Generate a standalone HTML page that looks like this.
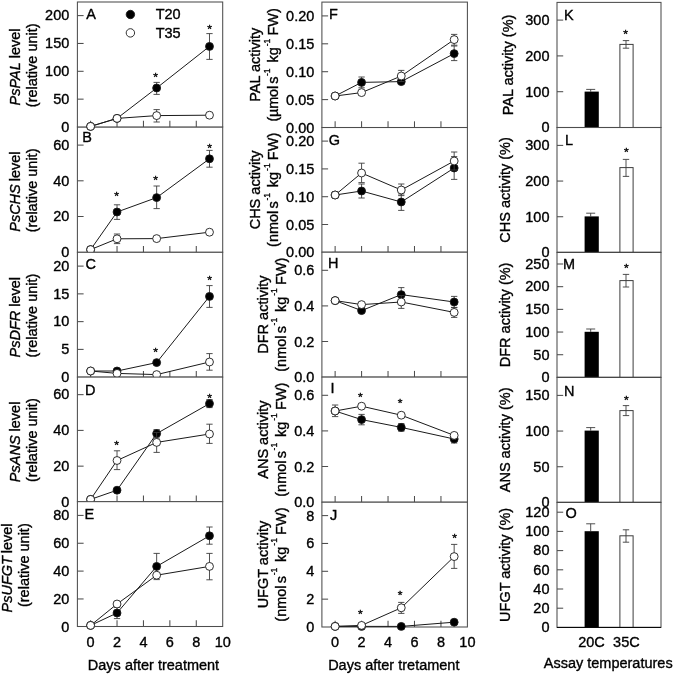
<!DOCTYPE html>
<html lang="en"><head><meta charset="utf-8"><title>Figure</title>
<style>
html,body{margin:0;padding:0;background:#fff;}
svg{display:block;}
svg text{font-family:"Liberation Sans",sans-serif;fill:#000;stroke:#000;stroke-width:0.35px;}
</style></head>
<body>
<svg width="675" height="675" viewBox="0 0 675 675">
<rect width="675" height="675" fill="#fff"/>
<g id="panel-B">
<rect x="77.40" y="126.95" width="145.30" height="125.35" fill="#fff" stroke="#4d4d4d" stroke-width="1.05"/>
<line x1="90.61" y1="252.30" x2="90.61" y2="246.10" stroke="#4d4d4d" stroke-width="1.05"/>
<line x1="117.03" y1="252.30" x2="117.03" y2="246.10" stroke="#4d4d4d" stroke-width="1.05"/>
<line x1="143.45" y1="252.30" x2="143.45" y2="246.10" stroke="#4d4d4d" stroke-width="1.05"/>
<line x1="169.86" y1="252.30" x2="169.86" y2="246.10" stroke="#4d4d4d" stroke-width="1.05"/>
<line x1="196.28" y1="252.30" x2="196.28" y2="246.10" stroke="#4d4d4d" stroke-width="1.05"/>
<text transform="translate(69.30 256.95) scale(1 1.035)" text-anchor="end" font-size="14.5">0</text>
<line x1="77.40" y1="216.50" x2="83.60" y2="216.50" stroke="#4d4d4d" stroke-width="1.05"/>
<text transform="translate(69.30 221.25) scale(1 1.035)" text-anchor="end" font-size="14.5">20</text>
<line x1="77.40" y1="180.80" x2="83.60" y2="180.80" stroke="#4d4d4d" stroke-width="1.05"/>
<text transform="translate(69.30 185.55) scale(1 1.035)" text-anchor="end" font-size="14.5">40</text>
<line x1="77.40" y1="145.10" x2="83.60" y2="145.10" stroke="#4d4d4d" stroke-width="1.05"/>
<text transform="translate(69.30 149.85) scale(1 1.035)" text-anchor="end" font-size="14.5">60</text>
<polyline points="90.61,249.60 117.03,212.00 156.65,197.60 209.49,158.80" fill="none" stroke="#1a1a1a" stroke-width="1.0"/>
<line x1="117.03" y1="204.80" x2="117.03" y2="219.40" stroke="#3c3c3c" stroke-width="0.9"/>
<line x1="113.88" y1="204.80" x2="120.18" y2="204.80" stroke="#3c3c3c" stroke-width="0.9"/>
<line x1="113.88" y1="219.40" x2="120.18" y2="219.40" stroke="#3c3c3c" stroke-width="0.9"/>
<line x1="156.65" y1="186.00" x2="156.65" y2="208.60" stroke="#3c3c3c" stroke-width="0.9"/>
<line x1="153.50" y1="186.00" x2="159.80" y2="186.00" stroke="#3c3c3c" stroke-width="0.9"/>
<line x1="153.50" y1="208.60" x2="159.80" y2="208.60" stroke="#3c3c3c" stroke-width="0.9"/>
<line x1="209.49" y1="150.40" x2="209.49" y2="167.20" stroke="#3c3c3c" stroke-width="0.9"/>
<line x1="206.34" y1="150.40" x2="212.64" y2="150.40" stroke="#3c3c3c" stroke-width="0.9"/>
<line x1="206.34" y1="167.20" x2="212.64" y2="167.20" stroke="#3c3c3c" stroke-width="0.9"/>
<circle cx="90.61" cy="249.60" r="3.95" fill="#000" stroke="#1a1a1a" stroke-width="0.9"/>
<circle cx="117.03" cy="212.00" r="3.95" fill="#000" stroke="#1a1a1a" stroke-width="0.9"/>
<circle cx="156.65" cy="197.60" r="3.95" fill="#000" stroke="#1a1a1a" stroke-width="0.9"/>
<circle cx="209.49" cy="158.80" r="3.95" fill="#000" stroke="#1a1a1a" stroke-width="0.9"/>
<polyline points="90.61,249.60 117.03,238.80 156.65,238.60 209.49,232.20" fill="none" stroke="#1a1a1a" stroke-width="1.0"/>
<line x1="117.03" y1="234.00" x2="117.03" y2="243.60" stroke="#3c3c3c" stroke-width="0.9"/>
<line x1="113.88" y1="234.00" x2="120.18" y2="234.00" stroke="#3c3c3c" stroke-width="0.9"/>
<line x1="113.88" y1="243.60" x2="120.18" y2="243.60" stroke="#3c3c3c" stroke-width="0.9"/>
<circle cx="90.61" cy="249.60" r="3.95" fill="#fff" stroke="#1a1a1a" stroke-width="0.9"/>
<circle cx="117.03" cy="238.80" r="3.95" fill="#fff" stroke="#1a1a1a" stroke-width="0.9"/>
<circle cx="156.65" cy="238.60" r="3.95" fill="#fff" stroke="#1a1a1a" stroke-width="0.9"/>
<circle cx="209.49" cy="232.20" r="3.95" fill="#fff" stroke="#1a1a1a" stroke-width="0.9"/>
<text transform="translate(116.53 200.40) scale(1.04 0.93)" text-anchor="middle" font-size="11.6" stroke-width="0.8">*</text>
<text transform="translate(155.65 183.80) scale(1.04 0.93)" text-anchor="middle" font-size="11.6" stroke-width="0.8">*</text>
<text transform="translate(209.49 151.80) scale(1.04 0.93)" text-anchor="middle" font-size="11.6" stroke-width="0.8">*</text>
<text transform="translate(82.20 142.30) scale(1 1.035)" text-anchor="start" font-size="14.5">B</text>
<text transform="translate(20.20 191.62) rotate(-90) scale(1 1.035)" text-anchor="middle" font-size="14.5"><tspan font-style="italic">PsCHS</tspan><tspan dx="-1.0"> level</tspan></text>
<text transform="translate(37.00 190.43) rotate(-90) scale(1 1.035)" text-anchor="middle" font-size="14.5">(relative unit)</text>
</g>
<g id="panel-C">
<rect x="77.40" y="252.30" width="145.30" height="124.80" fill="#fff" stroke="#4d4d4d" stroke-width="1.05"/>
<line x1="90.61" y1="377.10" x2="90.61" y2="370.90" stroke="#4d4d4d" stroke-width="1.05"/>
<line x1="117.03" y1="377.10" x2="117.03" y2="370.90" stroke="#4d4d4d" stroke-width="1.05"/>
<line x1="143.45" y1="377.10" x2="143.45" y2="370.90" stroke="#4d4d4d" stroke-width="1.05"/>
<line x1="169.86" y1="377.10" x2="169.86" y2="370.90" stroke="#4d4d4d" stroke-width="1.05"/>
<line x1="196.28" y1="377.10" x2="196.28" y2="370.90" stroke="#4d4d4d" stroke-width="1.05"/>
<text transform="translate(69.30 381.90) scale(1 1.035)" text-anchor="end" font-size="14.5">0</text>
<line x1="77.40" y1="349.39" x2="83.60" y2="349.39" stroke="#4d4d4d" stroke-width="1.05"/>
<text transform="translate(69.30 354.14) scale(1 1.035)" text-anchor="end" font-size="14.5">5</text>
<line x1="77.40" y1="321.63" x2="83.60" y2="321.63" stroke="#4d4d4d" stroke-width="1.05"/>
<text transform="translate(69.30 326.38) scale(1 1.035)" text-anchor="end" font-size="14.5">10</text>
<line x1="77.40" y1="293.87" x2="83.60" y2="293.87" stroke="#4d4d4d" stroke-width="1.05"/>
<text transform="translate(69.30 298.62) scale(1 1.035)" text-anchor="end" font-size="14.5">15</text>
<line x1="77.40" y1="266.11" x2="83.60" y2="266.11" stroke="#4d4d4d" stroke-width="1.05"/>
<text transform="translate(69.30 270.86) scale(1 1.035)" text-anchor="end" font-size="14.5">20</text>
<polyline points="90.61,371.00 117.03,371.00 156.65,362.60 209.49,296.40" fill="none" stroke="#1a1a1a" stroke-width="1.0"/>
<line x1="209.49" y1="285.60" x2="209.49" y2="307.40" stroke="#3c3c3c" stroke-width="0.9"/>
<line x1="206.34" y1="285.60" x2="212.64" y2="285.60" stroke="#3c3c3c" stroke-width="0.9"/>
<line x1="206.34" y1="307.40" x2="212.64" y2="307.40" stroke="#3c3c3c" stroke-width="0.9"/>
<circle cx="90.61" cy="371.00" r="3.95" fill="#000" stroke="#1a1a1a" stroke-width="0.9"/>
<circle cx="117.03" cy="371.00" r="3.95" fill="#000" stroke="#1a1a1a" stroke-width="0.9"/>
<circle cx="156.65" cy="362.60" r="3.95" fill="#000" stroke="#1a1a1a" stroke-width="0.9"/>
<circle cx="209.49" cy="296.40" r="3.95" fill="#000" stroke="#1a1a1a" stroke-width="0.9"/>
<polyline points="90.61,371.00 117.03,373.40 156.65,374.60 209.49,362.00" fill="none" stroke="#1a1a1a" stroke-width="1.0"/>
<line x1="209.49" y1="353.60" x2="209.49" y2="370.20" stroke="#3c3c3c" stroke-width="0.9"/>
<line x1="206.34" y1="353.60" x2="212.64" y2="353.60" stroke="#3c3c3c" stroke-width="0.9"/>
<line x1="206.34" y1="370.20" x2="212.64" y2="370.20" stroke="#3c3c3c" stroke-width="0.9"/>
<circle cx="90.61" cy="371.00" r="3.95" fill="#fff" stroke="#1a1a1a" stroke-width="0.9"/>
<circle cx="117.03" cy="373.40" r="3.95" fill="#fff" stroke="#1a1a1a" stroke-width="0.9"/>
<circle cx="156.65" cy="374.60" r="3.95" fill="#fff" stroke="#1a1a1a" stroke-width="0.9"/>
<circle cx="209.49" cy="362.00" r="3.95" fill="#fff" stroke="#1a1a1a" stroke-width="0.9"/>
<text transform="translate(155.65 356.40) scale(1.04 0.93)" text-anchor="middle" font-size="11.6" stroke-width="0.8">*</text>
<text transform="translate(209.49 284.00) scale(1.04 0.93)" text-anchor="middle" font-size="11.6" stroke-width="0.8">*</text>
<text transform="translate(85.40 268.80) scale(1 1.035)" text-anchor="start" font-size="14.5">C</text>
<text transform="translate(20.20 317.20) rotate(-90) scale(1 1.035)" text-anchor="middle" font-size="14.5"><tspan font-style="italic">PsDFR</tspan><tspan dx="0"> level</tspan></text>
<text transform="translate(37.00 315.50) rotate(-90) scale(1 1.035)" text-anchor="middle" font-size="14.5">(relative unit)</text>
</g>
<g id="panel-D">
<rect x="77.40" y="377.10" width="145.30" height="124.55" fill="#fff" stroke="#4d4d4d" stroke-width="1.05"/>
<line x1="90.61" y1="501.65" x2="90.61" y2="495.45" stroke="#4d4d4d" stroke-width="1.05"/>
<line x1="117.03" y1="501.65" x2="117.03" y2="495.45" stroke="#4d4d4d" stroke-width="1.05"/>
<line x1="143.45" y1="501.65" x2="143.45" y2="495.45" stroke="#4d4d4d" stroke-width="1.05"/>
<line x1="169.86" y1="501.65" x2="169.86" y2="495.45" stroke="#4d4d4d" stroke-width="1.05"/>
<line x1="196.28" y1="501.65" x2="196.28" y2="495.45" stroke="#4d4d4d" stroke-width="1.05"/>
<text transform="translate(69.30 506.65) scale(1 1.035)" text-anchor="end" font-size="14.5">0</text>
<line x1="77.40" y1="466.15" x2="83.60" y2="466.15" stroke="#4d4d4d" stroke-width="1.05"/>
<text transform="translate(69.30 470.90) scale(1 1.035)" text-anchor="end" font-size="14.5">20</text>
<line x1="77.40" y1="430.40" x2="83.60" y2="430.40" stroke="#4d4d4d" stroke-width="1.05"/>
<text transform="translate(69.30 435.15) scale(1 1.035)" text-anchor="end" font-size="14.5">40</text>
<line x1="77.40" y1="394.65" x2="83.60" y2="394.65" stroke="#4d4d4d" stroke-width="1.05"/>
<text transform="translate(69.30 399.40) scale(1 1.035)" text-anchor="end" font-size="14.5">60</text>
<polyline points="90.61,499.40 117.03,490.20 156.65,433.60 209.49,403.60" fill="none" stroke="#1a1a1a" stroke-width="1.0"/>
<line x1="156.65" y1="429.60" x2="156.65" y2="438.00" stroke="#3c3c3c" stroke-width="0.9"/>
<line x1="153.50" y1="429.60" x2="159.80" y2="429.60" stroke="#3c3c3c" stroke-width="0.9"/>
<line x1="153.50" y1="438.00" x2="159.80" y2="438.00" stroke="#3c3c3c" stroke-width="0.9"/>
<line x1="209.49" y1="399.60" x2="209.49" y2="407.60" stroke="#3c3c3c" stroke-width="0.9"/>
<line x1="206.34" y1="399.60" x2="212.64" y2="399.60" stroke="#3c3c3c" stroke-width="0.9"/>
<line x1="206.34" y1="407.60" x2="212.64" y2="407.60" stroke="#3c3c3c" stroke-width="0.9"/>
<circle cx="90.61" cy="499.40" r="3.95" fill="#000" stroke="#1a1a1a" stroke-width="0.9"/>
<circle cx="117.03" cy="490.20" r="3.95" fill="#000" stroke="#1a1a1a" stroke-width="0.9"/>
<circle cx="156.65" cy="433.60" r="3.95" fill="#000" stroke="#1a1a1a" stroke-width="0.9"/>
<circle cx="209.49" cy="403.60" r="3.95" fill="#000" stroke="#1a1a1a" stroke-width="0.9"/>
<polyline points="90.61,499.40 117.03,460.50 156.65,442.40 209.49,434.00" fill="none" stroke="#1a1a1a" stroke-width="1.0"/>
<line x1="117.03" y1="450.80" x2="117.03" y2="469.60" stroke="#3c3c3c" stroke-width="0.9"/>
<line x1="113.88" y1="450.80" x2="120.18" y2="450.80" stroke="#3c3c3c" stroke-width="0.9"/>
<line x1="113.88" y1="469.60" x2="120.18" y2="469.60" stroke="#3c3c3c" stroke-width="0.9"/>
<line x1="156.65" y1="432.40" x2="156.65" y2="452.40" stroke="#3c3c3c" stroke-width="0.9"/>
<line x1="153.50" y1="432.40" x2="159.80" y2="432.40" stroke="#3c3c3c" stroke-width="0.9"/>
<line x1="153.50" y1="452.40" x2="159.80" y2="452.40" stroke="#3c3c3c" stroke-width="0.9"/>
<line x1="209.49" y1="424.20" x2="209.49" y2="443.40" stroke="#3c3c3c" stroke-width="0.9"/>
<line x1="206.34" y1="424.20" x2="212.64" y2="424.20" stroke="#3c3c3c" stroke-width="0.9"/>
<line x1="206.34" y1="443.40" x2="212.64" y2="443.40" stroke="#3c3c3c" stroke-width="0.9"/>
<circle cx="90.61" cy="499.40" r="3.95" fill="#fff" stroke="#1a1a1a" stroke-width="0.9"/>
<circle cx="117.03" cy="460.50" r="3.95" fill="#fff" stroke="#1a1a1a" stroke-width="0.9"/>
<circle cx="156.65" cy="442.40" r="3.95" fill="#fff" stroke="#1a1a1a" stroke-width="0.9"/>
<circle cx="209.49" cy="434.00" r="3.95" fill="#fff" stroke="#1a1a1a" stroke-width="0.9"/>
<text transform="translate(116.53 449.40) scale(1.04 0.93)" text-anchor="middle" font-size="11.6" stroke-width="0.8">*</text>
<text transform="translate(209.49 402.40) scale(1.04 0.93)" text-anchor="middle" font-size="11.6" stroke-width="0.8">*</text>
<text transform="translate(85.00 394.80) scale(1 1.035)" text-anchor="start" font-size="14.5">D</text>
<text transform="translate(20.20 441.88) rotate(-90) scale(1 1.035)" text-anchor="middle" font-size="14.5"><tspan font-style="italic">PsANS</tspan><tspan dx="0"> level</tspan></text>
<text transform="translate(37.00 440.18) rotate(-90) scale(1 1.035)" text-anchor="middle" font-size="14.5">(relative unit)</text>
</g>
<g id="panel-E">
<rect x="77.40" y="501.65" width="145.30" height="124.85" fill="#fff" stroke="#4d4d4d" stroke-width="1.05"/>
<line x1="90.61" y1="626.50" x2="90.61" y2="620.30" stroke="#4d4d4d" stroke-width="1.05"/>
<line x1="117.03" y1="626.50" x2="117.03" y2="620.30" stroke="#4d4d4d" stroke-width="1.05"/>
<line x1="143.45" y1="626.50" x2="143.45" y2="620.30" stroke="#4d4d4d" stroke-width="1.05"/>
<line x1="169.86" y1="626.50" x2="169.86" y2="620.30" stroke="#4d4d4d" stroke-width="1.05"/>
<line x1="196.28" y1="626.50" x2="196.28" y2="620.30" stroke="#4d4d4d" stroke-width="1.05"/>
<text transform="translate(69.30 631.55) scale(1 1.035)" text-anchor="end" font-size="14.5">0</text>
<line x1="77.40" y1="598.95" x2="83.60" y2="598.95" stroke="#4d4d4d" stroke-width="1.05"/>
<text transform="translate(69.30 603.70) scale(1 1.035)" text-anchor="end" font-size="14.5">20</text>
<line x1="77.40" y1="571.10" x2="83.60" y2="571.10" stroke="#4d4d4d" stroke-width="1.05"/>
<text transform="translate(69.30 575.85) scale(1 1.035)" text-anchor="end" font-size="14.5">40</text>
<line x1="77.40" y1="543.25" x2="83.60" y2="543.25" stroke="#4d4d4d" stroke-width="1.05"/>
<text transform="translate(69.30 548.00) scale(1 1.035)" text-anchor="end" font-size="14.5">60</text>
<line x1="77.40" y1="515.40" x2="83.60" y2="515.40" stroke="#4d4d4d" stroke-width="1.05"/>
<text transform="translate(69.30 520.15) scale(1 1.035)" text-anchor="end" font-size="14.5">80</text>
<polyline points="90.61,625.40 117.03,613.00 156.65,566.40 209.49,535.80" fill="none" stroke="#1a1a1a" stroke-width="1.0"/>
<line x1="117.03" y1="607.50" x2="117.03" y2="618.60" stroke="#3c3c3c" stroke-width="0.9"/>
<line x1="113.88" y1="607.50" x2="120.18" y2="607.50" stroke="#3c3c3c" stroke-width="0.9"/>
<line x1="113.88" y1="618.60" x2="120.18" y2="618.60" stroke="#3c3c3c" stroke-width="0.9"/>
<line x1="156.65" y1="553.40" x2="156.65" y2="579.60" stroke="#3c3c3c" stroke-width="0.9"/>
<line x1="153.50" y1="553.40" x2="159.80" y2="553.40" stroke="#3c3c3c" stroke-width="0.9"/>
<line x1="153.50" y1="579.60" x2="159.80" y2="579.60" stroke="#3c3c3c" stroke-width="0.9"/>
<line x1="209.49" y1="527.00" x2="209.49" y2="544.20" stroke="#3c3c3c" stroke-width="0.9"/>
<line x1="206.34" y1="527.00" x2="212.64" y2="527.00" stroke="#3c3c3c" stroke-width="0.9"/>
<line x1="206.34" y1="544.20" x2="212.64" y2="544.20" stroke="#3c3c3c" stroke-width="0.9"/>
<circle cx="90.61" cy="625.40" r="3.95" fill="#000" stroke="#1a1a1a" stroke-width="0.9"/>
<circle cx="117.03" cy="613.00" r="3.95" fill="#000" stroke="#1a1a1a" stroke-width="0.9"/>
<circle cx="156.65" cy="566.40" r="3.95" fill="#000" stroke="#1a1a1a" stroke-width="0.9"/>
<circle cx="209.49" cy="535.80" r="3.95" fill="#000" stroke="#1a1a1a" stroke-width="0.9"/>
<polyline points="90.61,625.40 117.03,604.00 156.65,575.20 209.49,566.40" fill="none" stroke="#1a1a1a" stroke-width="1.0"/>
<line x1="209.49" y1="553.40" x2="209.49" y2="579.80" stroke="#3c3c3c" stroke-width="0.9"/>
<line x1="206.34" y1="553.40" x2="212.64" y2="553.40" stroke="#3c3c3c" stroke-width="0.9"/>
<line x1="206.34" y1="579.80" x2="212.64" y2="579.80" stroke="#3c3c3c" stroke-width="0.9"/>
<circle cx="90.61" cy="625.40" r="3.95" fill="#fff" stroke="#1a1a1a" stroke-width="0.9"/>
<circle cx="117.03" cy="604.00" r="3.95" fill="#fff" stroke="#1a1a1a" stroke-width="0.9"/>
<circle cx="156.65" cy="575.20" r="3.95" fill="#fff" stroke="#1a1a1a" stroke-width="0.9"/>
<circle cx="209.49" cy="566.40" r="3.95" fill="#fff" stroke="#1a1a1a" stroke-width="0.9"/>
<text transform="translate(84.50 519.30) scale(1 1.035)" text-anchor="start" font-size="14.5">E</text>
<text transform="translate(12.00 567.98) rotate(-90) scale(1 1.035)" text-anchor="middle" font-size="14.5"><tspan font-style="italic">PsUFGT</tspan><tspan dx="-1.3"> level</tspan></text>
<text transform="translate(29.30 565.17) rotate(-90) scale(1 1.035)" text-anchor="middle" font-size="14.5">(relative unit)</text>
</g>
<g id="panel-A">
<rect x="77.40" y="2.00" width="145.30" height="124.95" fill="#fff" stroke="#4d4d4d" stroke-width="1.05"/>
<line x1="90.61" y1="126.95" x2="90.61" y2="120.75" stroke="#4d4d4d" stroke-width="1.05"/>
<line x1="117.03" y1="126.95" x2="117.03" y2="120.75" stroke="#4d4d4d" stroke-width="1.05"/>
<line x1="143.45" y1="126.95" x2="143.45" y2="120.75" stroke="#4d4d4d" stroke-width="1.05"/>
<line x1="169.86" y1="126.95" x2="169.86" y2="120.75" stroke="#4d4d4d" stroke-width="1.05"/>
<line x1="196.28" y1="126.95" x2="196.28" y2="120.75" stroke="#4d4d4d" stroke-width="1.05"/>
<text transform="translate(69.30 131.75) scale(1 1.035)" text-anchor="end" font-size="14.5">0</text>
<line x1="77.40" y1="99.15" x2="83.60" y2="99.15" stroke="#4d4d4d" stroke-width="1.05"/>
<text transform="translate(69.30 103.90) scale(1 1.035)" text-anchor="end" font-size="14.5">50</text>
<line x1="77.40" y1="71.30" x2="83.60" y2="71.30" stroke="#4d4d4d" stroke-width="1.05"/>
<text transform="translate(69.30 76.05) scale(1 1.035)" text-anchor="end" font-size="14.5">100</text>
<line x1="77.40" y1="43.45" x2="83.60" y2="43.45" stroke="#4d4d4d" stroke-width="1.05"/>
<text transform="translate(69.30 48.20) scale(1 1.035)" text-anchor="end" font-size="14.5">150</text>
<line x1="77.40" y1="15.60" x2="83.60" y2="15.60" stroke="#4d4d4d" stroke-width="1.05"/>
<text transform="translate(69.30 20.35) scale(1 1.035)" text-anchor="end" font-size="14.5">200</text>
<polyline points="90.61,126.40 117.03,118.40 156.65,88.00 209.49,46.40" fill="none" stroke="#1a1a1a" stroke-width="1.0"/>
<line x1="156.65" y1="82.40" x2="156.65" y2="94.40" stroke="#3c3c3c" stroke-width="0.9"/>
<line x1="153.50" y1="82.40" x2="159.80" y2="82.40" stroke="#3c3c3c" stroke-width="0.9"/>
<line x1="153.50" y1="94.40" x2="159.80" y2="94.40" stroke="#3c3c3c" stroke-width="0.9"/>
<line x1="209.49" y1="33.60" x2="209.49" y2="59.40" stroke="#3c3c3c" stroke-width="0.9"/>
<line x1="206.34" y1="33.60" x2="212.64" y2="33.60" stroke="#3c3c3c" stroke-width="0.9"/>
<line x1="206.34" y1="59.40" x2="212.64" y2="59.40" stroke="#3c3c3c" stroke-width="0.9"/>
<circle cx="90.61" cy="126.40" r="3.95" fill="#000" stroke="#1a1a1a" stroke-width="0.9"/>
<circle cx="117.03" cy="118.40" r="3.95" fill="#000" stroke="#1a1a1a" stroke-width="0.9"/>
<circle cx="156.65" cy="88.00" r="3.95" fill="#000" stroke="#1a1a1a" stroke-width="0.9"/>
<circle cx="209.49" cy="46.40" r="3.95" fill="#000" stroke="#1a1a1a" stroke-width="0.9"/>
<polyline points="90.61,126.40 117.03,118.40 156.65,115.60 209.49,115.20" fill="none" stroke="#1a1a1a" stroke-width="1.0"/>
<line x1="156.65" y1="109.60" x2="156.65" y2="122.00" stroke="#3c3c3c" stroke-width="0.9"/>
<line x1="153.50" y1="109.60" x2="159.80" y2="109.60" stroke="#3c3c3c" stroke-width="0.9"/>
<line x1="153.50" y1="122.00" x2="159.80" y2="122.00" stroke="#3c3c3c" stroke-width="0.9"/>
<circle cx="90.61" cy="126.40" r="3.95" fill="#fff" stroke="#1a1a1a" stroke-width="0.9"/>
<circle cx="117.03" cy="118.40" r="3.95" fill="#fff" stroke="#1a1a1a" stroke-width="0.9"/>
<circle cx="156.65" cy="115.60" r="3.95" fill="#fff" stroke="#1a1a1a" stroke-width="0.9"/>
<circle cx="209.49" cy="115.20" r="3.95" fill="#fff" stroke="#1a1a1a" stroke-width="0.9"/>
<text transform="translate(155.65 80.80) scale(1.04 0.93)" text-anchor="middle" font-size="11.6" stroke-width="0.8">*</text>
<text transform="translate(209.49 32.60) scale(1.04 0.93)" text-anchor="middle" font-size="11.6" stroke-width="0.8">*</text>
<text transform="translate(86.30 18.90) scale(1 1.035)" text-anchor="start" font-size="14.5">A</text>
<text transform="translate(20.20 66.97) rotate(-90) scale(1 1.035)" text-anchor="middle" font-size="14.5"><tspan font-style="italic">PsPAL</tspan><tspan dx="0"> level</tspan></text>
<text transform="translate(37.00 65.27) rotate(-90) scale(1 1.035)" text-anchor="middle" font-size="14.5">(relative unit)</text>
</g>
<g id="panel-G">
<rect x="321.90" y="127.50" width="145.50" height="124.70" fill="#fff" stroke="#4d4d4d" stroke-width="1.05"/>
<line x1="335.13" y1="252.20" x2="335.13" y2="246.00" stroke="#4d4d4d" stroke-width="1.05"/>
<line x1="361.58" y1="252.20" x2="361.58" y2="246.00" stroke="#4d4d4d" stroke-width="1.05"/>
<line x1="388.04" y1="252.20" x2="388.04" y2="246.00" stroke="#4d4d4d" stroke-width="1.05"/>
<line x1="414.49" y1="252.20" x2="414.49" y2="246.00" stroke="#4d4d4d" stroke-width="1.05"/>
<line x1="440.95" y1="252.20" x2="440.95" y2="246.00" stroke="#4d4d4d" stroke-width="1.05"/>
<text transform="translate(314.30 257.30) scale(1 1.035)" text-anchor="end" font-size="14.5">0.00</text>
<line x1="321.90" y1="224.50" x2="328.10" y2="224.50" stroke="#4d4d4d" stroke-width="1.05"/>
<text transform="translate(314.30 229.50) scale(1 1.035)" text-anchor="end" font-size="14.5">0.05</text>
<line x1="321.90" y1="196.70" x2="328.10" y2="196.70" stroke="#4d4d4d" stroke-width="1.05"/>
<text transform="translate(314.30 201.70) scale(1 1.035)" text-anchor="end" font-size="14.5">0.10</text>
<line x1="321.90" y1="168.90" x2="328.10" y2="168.90" stroke="#4d4d4d" stroke-width="1.05"/>
<text transform="translate(314.30 173.90) scale(1 1.035)" text-anchor="end" font-size="14.5">0.15</text>
<line x1="321.90" y1="141.10" x2="328.10" y2="141.10" stroke="#4d4d4d" stroke-width="1.05"/>
<text transform="translate(314.30 146.10) scale(1 1.035)" text-anchor="end" font-size="14.5">0.20</text>
<polyline points="335.13,195.00 361.58,191.00 401.26,202.00 454.17,168.00" fill="none" stroke="#1a1a1a" stroke-width="1.0"/>
<line x1="335.13" y1="192.00" x2="335.13" y2="198.00" stroke="#3c3c3c" stroke-width="0.9"/>
<line x1="331.98" y1="192.00" x2="338.28" y2="192.00" stroke="#3c3c3c" stroke-width="0.9"/>
<line x1="331.98" y1="198.00" x2="338.28" y2="198.00" stroke="#3c3c3c" stroke-width="0.9"/>
<line x1="361.58" y1="184.00" x2="361.58" y2="198.00" stroke="#3c3c3c" stroke-width="0.9"/>
<line x1="358.43" y1="184.00" x2="364.73" y2="184.00" stroke="#3c3c3c" stroke-width="0.9"/>
<line x1="358.43" y1="198.00" x2="364.73" y2="198.00" stroke="#3c3c3c" stroke-width="0.9"/>
<line x1="401.26" y1="194.00" x2="401.26" y2="210.40" stroke="#3c3c3c" stroke-width="0.9"/>
<line x1="398.11" y1="194.00" x2="404.41" y2="194.00" stroke="#3c3c3c" stroke-width="0.9"/>
<line x1="398.11" y1="210.40" x2="404.41" y2="210.40" stroke="#3c3c3c" stroke-width="0.9"/>
<line x1="454.17" y1="156.60" x2="454.17" y2="179.40" stroke="#3c3c3c" stroke-width="0.9"/>
<line x1="451.02" y1="156.60" x2="457.32" y2="156.60" stroke="#3c3c3c" stroke-width="0.9"/>
<line x1="451.02" y1="179.40" x2="457.32" y2="179.40" stroke="#3c3c3c" stroke-width="0.9"/>
<circle cx="335.13" cy="195.00" r="3.95" fill="#000" stroke="#1a1a1a" stroke-width="0.9"/>
<circle cx="361.58" cy="191.00" r="3.95" fill="#000" stroke="#1a1a1a" stroke-width="0.9"/>
<circle cx="401.26" cy="202.00" r="3.95" fill="#000" stroke="#1a1a1a" stroke-width="0.9"/>
<circle cx="454.17" cy="168.00" r="3.95" fill="#000" stroke="#1a1a1a" stroke-width="0.9"/>
<polyline points="335.13,195.00 361.58,173.00 401.26,190.00 454.17,161.00" fill="none" stroke="#1a1a1a" stroke-width="1.0"/>
<line x1="361.58" y1="163.20" x2="361.58" y2="182.60" stroke="#3c3c3c" stroke-width="0.9"/>
<line x1="358.43" y1="163.20" x2="364.73" y2="163.20" stroke="#3c3c3c" stroke-width="0.9"/>
<line x1="358.43" y1="182.60" x2="364.73" y2="182.60" stroke="#3c3c3c" stroke-width="0.9"/>
<line x1="401.26" y1="184.00" x2="401.26" y2="195.60" stroke="#3c3c3c" stroke-width="0.9"/>
<line x1="398.11" y1="184.00" x2="404.41" y2="184.00" stroke="#3c3c3c" stroke-width="0.9"/>
<line x1="398.11" y1="195.60" x2="404.41" y2="195.60" stroke="#3c3c3c" stroke-width="0.9"/>
<line x1="454.17" y1="152.00" x2="454.17" y2="170.00" stroke="#3c3c3c" stroke-width="0.9"/>
<line x1="451.02" y1="152.00" x2="457.32" y2="152.00" stroke="#3c3c3c" stroke-width="0.9"/>
<line x1="451.02" y1="170.00" x2="457.32" y2="170.00" stroke="#3c3c3c" stroke-width="0.9"/>
<circle cx="335.13" cy="195.00" r="3.95" fill="#fff" stroke="#1a1a1a" stroke-width="0.9"/>
<circle cx="361.58" cy="173.00" r="3.95" fill="#fff" stroke="#1a1a1a" stroke-width="0.9"/>
<circle cx="401.26" cy="190.00" r="3.95" fill="#fff" stroke="#1a1a1a" stroke-width="0.9"/>
<circle cx="454.17" cy="161.00" r="3.95" fill="#fff" stroke="#1a1a1a" stroke-width="0.9"/>
<text transform="translate(328.80 144.90) scale(1 1.035)" text-anchor="start" font-size="14.5">G</text>
<text transform="translate(259.60 189.85) rotate(-90) scale(1 1.035)" text-anchor="middle" font-size="14.5">CHS activity</text>
<text transform="translate(278.40 189.85) rotate(-90) scale(1 1.035)" text-anchor="middle" font-size="14.5">(nmol<tspan dx="-1.8"> s</tspan><tspan font-size="8.5" dy="-8.6" dx="0.6">-1</tspan><tspan dy="8.6" dx="1.8"> kg</tspan><tspan font-size="8.5" dy="-8.6" dx="1.0">-1</tspan><tspan dy="8.6" dx="-0.8"> FW)</tspan></text>
</g>
<g id="panel-H">
<rect x="321.90" y="252.20" width="145.50" height="124.90" fill="#fff" stroke="#4d4d4d" stroke-width="1.05"/>
<line x1="335.13" y1="377.10" x2="335.13" y2="370.90" stroke="#4d4d4d" stroke-width="1.05"/>
<line x1="361.58" y1="377.10" x2="361.58" y2="370.90" stroke="#4d4d4d" stroke-width="1.05"/>
<line x1="388.04" y1="377.10" x2="388.04" y2="370.90" stroke="#4d4d4d" stroke-width="1.05"/>
<line x1="414.49" y1="377.10" x2="414.49" y2="370.90" stroke="#4d4d4d" stroke-width="1.05"/>
<line x1="440.95" y1="377.10" x2="440.95" y2="370.90" stroke="#4d4d4d" stroke-width="1.05"/>
<text transform="translate(314.30 382.10) scale(1 1.035)" text-anchor="end" font-size="14.5">0.0</text>
<line x1="321.90" y1="341.50" x2="328.10" y2="341.50" stroke="#4d4d4d" stroke-width="1.05"/>
<text transform="translate(314.30 346.50) scale(1 1.035)" text-anchor="end" font-size="14.5">0.2</text>
<line x1="321.90" y1="305.90" x2="328.10" y2="305.90" stroke="#4d4d4d" stroke-width="1.05"/>
<text transform="translate(314.30 310.90) scale(1 1.035)" text-anchor="end" font-size="14.5">0.4</text>
<line x1="321.90" y1="270.30" x2="328.10" y2="270.30" stroke="#4d4d4d" stroke-width="1.05"/>
<text transform="translate(314.30 275.30) scale(1 1.035)" text-anchor="end" font-size="14.5">0.6</text>
<polyline points="335.13,300.60 361.58,310.60 401.26,294.60 454.17,302.00" fill="none" stroke="#1a1a1a" stroke-width="1.0"/>
<line x1="401.26" y1="287.60" x2="401.26" y2="301.60" stroke="#3c3c3c" stroke-width="0.9"/>
<line x1="398.11" y1="287.60" x2="404.41" y2="287.60" stroke="#3c3c3c" stroke-width="0.9"/>
<line x1="398.11" y1="301.60" x2="404.41" y2="301.60" stroke="#3c3c3c" stroke-width="0.9"/>
<line x1="454.17" y1="296.40" x2="454.17" y2="307.60" stroke="#3c3c3c" stroke-width="0.9"/>
<line x1="451.02" y1="296.40" x2="457.32" y2="296.40" stroke="#3c3c3c" stroke-width="0.9"/>
<line x1="451.02" y1="307.60" x2="457.32" y2="307.60" stroke="#3c3c3c" stroke-width="0.9"/>
<circle cx="335.13" cy="300.60" r="3.95" fill="#000" stroke="#1a1a1a" stroke-width="0.9"/>
<circle cx="361.58" cy="310.60" r="3.95" fill="#000" stroke="#1a1a1a" stroke-width="0.9"/>
<circle cx="401.26" cy="294.60" r="3.95" fill="#000" stroke="#1a1a1a" stroke-width="0.9"/>
<circle cx="454.17" cy="302.00" r="3.95" fill="#000" stroke="#1a1a1a" stroke-width="0.9"/>
<polyline points="335.13,300.60 361.58,304.60 401.26,302.00 454.17,312.40" fill="none" stroke="#1a1a1a" stroke-width="1.0"/>
<line x1="401.26" y1="295.60" x2="401.26" y2="308.40" stroke="#3c3c3c" stroke-width="0.9"/>
<line x1="398.11" y1="295.60" x2="404.41" y2="295.60" stroke="#3c3c3c" stroke-width="0.9"/>
<line x1="398.11" y1="308.40" x2="404.41" y2="308.40" stroke="#3c3c3c" stroke-width="0.9"/>
<line x1="454.17" y1="307.40" x2="454.17" y2="317.40" stroke="#3c3c3c" stroke-width="0.9"/>
<line x1="451.02" y1="307.40" x2="457.32" y2="307.40" stroke="#3c3c3c" stroke-width="0.9"/>
<line x1="451.02" y1="317.40" x2="457.32" y2="317.40" stroke="#3c3c3c" stroke-width="0.9"/>
<circle cx="335.13" cy="300.60" r="3.95" fill="#fff" stroke="#1a1a1a" stroke-width="0.9"/>
<circle cx="361.58" cy="304.60" r="3.95" fill="#fff" stroke="#1a1a1a" stroke-width="0.9"/>
<circle cx="401.26" cy="302.00" r="3.95" fill="#fff" stroke="#1a1a1a" stroke-width="0.9"/>
<circle cx="454.17" cy="312.40" r="3.95" fill="#fff" stroke="#1a1a1a" stroke-width="0.9"/>
<text transform="translate(328.00 267.90) scale(1 1.035)" text-anchor="start" font-size="14.5">H</text>
<text transform="translate(268.30 314.65) rotate(-90) scale(1 1.035)" text-anchor="middle" font-size="14.5">DFR activity</text>
<text transform="translate(286.20 314.65) rotate(-90) scale(1 1.035)" text-anchor="middle" font-size="14.5">(nmol<tspan dx="-1.8"> s</tspan><tspan font-size="8.5" dy="-8.6" dx="0.6">-1</tspan><tspan dy="8.6" dx="1.8"> kg</tspan><tspan font-size="8.5" dy="-8.6" dx="1.0">-1</tspan><tspan dy="8.6" dx="-0.8"> FW)</tspan></text>
</g>
<g id="panel-I">
<rect x="321.90" y="377.10" width="145.50" height="125.10" fill="#fff" stroke="#4d4d4d" stroke-width="1.05"/>
<line x1="335.13" y1="502.20" x2="335.13" y2="496.00" stroke="#4d4d4d" stroke-width="1.05"/>
<line x1="361.58" y1="502.20" x2="361.58" y2="496.00" stroke="#4d4d4d" stroke-width="1.05"/>
<line x1="388.04" y1="502.20" x2="388.04" y2="496.00" stroke="#4d4d4d" stroke-width="1.05"/>
<line x1="414.49" y1="502.20" x2="414.49" y2="496.00" stroke="#4d4d4d" stroke-width="1.05"/>
<line x1="440.95" y1="502.20" x2="440.95" y2="496.00" stroke="#4d4d4d" stroke-width="1.05"/>
<text transform="translate(314.30 507.10) scale(1 1.035)" text-anchor="end" font-size="14.5">0.0</text>
<line x1="321.90" y1="466.50" x2="328.10" y2="466.50" stroke="#4d4d4d" stroke-width="1.05"/>
<text transform="translate(314.30 471.50) scale(1 1.035)" text-anchor="end" font-size="14.5">0.2</text>
<line x1="321.90" y1="430.90" x2="328.10" y2="430.90" stroke="#4d4d4d" stroke-width="1.05"/>
<text transform="translate(314.30 435.90) scale(1 1.035)" text-anchor="end" font-size="14.5">0.4</text>
<line x1="321.90" y1="395.30" x2="328.10" y2="395.30" stroke="#4d4d4d" stroke-width="1.05"/>
<text transform="translate(314.30 400.30) scale(1 1.035)" text-anchor="end" font-size="14.5">0.6</text>
<polyline points="335.13,411.00 361.58,419.60 401.26,427.40 454.17,439.00" fill="none" stroke="#1a1a1a" stroke-width="1.0"/>
<line x1="335.13" y1="405.00" x2="335.13" y2="416.60" stroke="#3c3c3c" stroke-width="0.9"/>
<line x1="331.98" y1="405.00" x2="338.28" y2="405.00" stroke="#3c3c3c" stroke-width="0.9"/>
<line x1="331.98" y1="416.60" x2="338.28" y2="416.60" stroke="#3c3c3c" stroke-width="0.9"/>
<line x1="361.58" y1="414.40" x2="361.58" y2="424.80" stroke="#3c3c3c" stroke-width="0.9"/>
<line x1="358.43" y1="414.40" x2="364.73" y2="414.40" stroke="#3c3c3c" stroke-width="0.9"/>
<line x1="358.43" y1="424.80" x2="364.73" y2="424.80" stroke="#3c3c3c" stroke-width="0.9"/>
<line x1="401.26" y1="423.60" x2="401.26" y2="431.20" stroke="#3c3c3c" stroke-width="0.9"/>
<line x1="398.11" y1="423.60" x2="404.41" y2="423.60" stroke="#3c3c3c" stroke-width="0.9"/>
<line x1="398.11" y1="431.20" x2="404.41" y2="431.20" stroke="#3c3c3c" stroke-width="0.9"/>
<line x1="454.17" y1="435.00" x2="454.17" y2="443.00" stroke="#3c3c3c" stroke-width="0.9"/>
<line x1="451.02" y1="435.00" x2="457.32" y2="435.00" stroke="#3c3c3c" stroke-width="0.9"/>
<line x1="451.02" y1="443.00" x2="457.32" y2="443.00" stroke="#3c3c3c" stroke-width="0.9"/>
<circle cx="335.13" cy="411.00" r="3.95" fill="#000" stroke="#1a1a1a" stroke-width="0.9"/>
<circle cx="361.58" cy="419.60" r="3.95" fill="#000" stroke="#1a1a1a" stroke-width="0.9"/>
<circle cx="401.26" cy="427.40" r="3.95" fill="#000" stroke="#1a1a1a" stroke-width="0.9"/>
<circle cx="454.17" cy="439.00" r="3.95" fill="#000" stroke="#1a1a1a" stroke-width="0.9"/>
<polyline points="335.13,411.00 361.58,406.20 401.26,415.20 454.17,435.40" fill="none" stroke="#1a1a1a" stroke-width="1.0"/>
<circle cx="335.13" cy="411.00" r="3.95" fill="#fff" stroke="#1a1a1a" stroke-width="0.9"/>
<circle cx="361.58" cy="406.20" r="3.95" fill="#fff" stroke="#1a1a1a" stroke-width="0.9"/>
<circle cx="401.26" cy="415.20" r="3.95" fill="#fff" stroke="#1a1a1a" stroke-width="0.9"/>
<circle cx="454.17" cy="435.40" r="3.95" fill="#fff" stroke="#1a1a1a" stroke-width="0.9"/>
<text transform="translate(360.38 400.80) scale(1.04 0.93)" text-anchor="middle" font-size="11.6" stroke-width="0.8">*</text>
<text transform="translate(400.06 407.40) scale(1.04 0.93)" text-anchor="middle" font-size="11.6" stroke-width="0.8">*</text>
<text transform="translate(330.60 393.30) scale(1 1.035)" text-anchor="start" font-size="14.5">I</text>
<text transform="translate(268.30 439.65) rotate(-90) scale(1 1.035)" text-anchor="middle" font-size="14.5">ANS activity</text>
<text transform="translate(286.20 439.65) rotate(-90) scale(1 1.035)" text-anchor="middle" font-size="14.5">(nmol<tspan dx="-1.8"> s</tspan><tspan font-size="8.5" dy="-8.6" dx="0.6">-1</tspan><tspan dy="8.6" dx="1.8"> kg</tspan><tspan font-size="8.5" dy="-8.6" dx="1.0">-1</tspan><tspan dy="8.6" dx="-0.8"> FW)</tspan></text>
</g>
<g id="panel-J">
<rect x="321.90" y="502.20" width="145.50" height="124.80" fill="#fff" stroke="#4d4d4d" stroke-width="1.05"/>
<line x1="335.13" y1="627.00" x2="335.13" y2="620.80" stroke="#4d4d4d" stroke-width="1.05"/>
<line x1="361.58" y1="627.00" x2="361.58" y2="620.80" stroke="#4d4d4d" stroke-width="1.05"/>
<line x1="388.04" y1="627.00" x2="388.04" y2="620.80" stroke="#4d4d4d" stroke-width="1.05"/>
<line x1="414.49" y1="627.00" x2="414.49" y2="620.80" stroke="#4d4d4d" stroke-width="1.05"/>
<line x1="440.95" y1="627.00" x2="440.95" y2="620.80" stroke="#4d4d4d" stroke-width="1.05"/>
<text transform="translate(314.30 632.00) scale(1 1.035)" text-anchor="end" font-size="14.5">0</text>
<line x1="321.90" y1="599.15" x2="328.10" y2="599.15" stroke="#4d4d4d" stroke-width="1.05"/>
<text transform="translate(314.30 604.15) scale(1 1.035)" text-anchor="end" font-size="14.5">2</text>
<line x1="321.90" y1="571.30" x2="328.10" y2="571.30" stroke="#4d4d4d" stroke-width="1.05"/>
<text transform="translate(314.30 576.30) scale(1 1.035)" text-anchor="end" font-size="14.5">4</text>
<line x1="321.90" y1="543.45" x2="328.10" y2="543.45" stroke="#4d4d4d" stroke-width="1.05"/>
<text transform="translate(314.30 548.45) scale(1 1.035)" text-anchor="end" font-size="14.5">6</text>
<line x1="321.90" y1="515.60" x2="328.10" y2="515.60" stroke="#4d4d4d" stroke-width="1.05"/>
<text transform="translate(314.30 520.60) scale(1 1.035)" text-anchor="end" font-size="14.5">8</text>
<polyline points="335.13,626.40 361.58,626.40 401.26,626.40 454.17,622.20" fill="none" stroke="#1a1a1a" stroke-width="1.0"/>
<circle cx="335.13" cy="626.40" r="3.95" fill="#000" stroke="#1a1a1a" stroke-width="0.9"/>
<circle cx="361.58" cy="626.40" r="3.95" fill="#000" stroke="#1a1a1a" stroke-width="0.9"/>
<circle cx="401.26" cy="626.40" r="3.95" fill="#000" stroke="#1a1a1a" stroke-width="0.9"/>
<circle cx="454.17" cy="622.20" r="3.95" fill="#000" stroke="#1a1a1a" stroke-width="0.9"/>
<polyline points="335.13,626.40 361.58,625.40 401.26,607.80 454.17,556.60" fill="none" stroke="#1a1a1a" stroke-width="1.0"/>
<line x1="401.26" y1="602.40" x2="401.26" y2="613.40" stroke="#3c3c3c" stroke-width="0.9"/>
<line x1="398.11" y1="602.40" x2="404.41" y2="602.40" stroke="#3c3c3c" stroke-width="0.9"/>
<line x1="398.11" y1="613.40" x2="404.41" y2="613.40" stroke="#3c3c3c" stroke-width="0.9"/>
<line x1="454.17" y1="544.40" x2="454.17" y2="568.40" stroke="#3c3c3c" stroke-width="0.9"/>
<line x1="451.02" y1="544.40" x2="457.32" y2="544.40" stroke="#3c3c3c" stroke-width="0.9"/>
<line x1="451.02" y1="568.40" x2="457.32" y2="568.40" stroke="#3c3c3c" stroke-width="0.9"/>
<circle cx="335.13" cy="626.40" r="3.95" fill="#fff" stroke="#1a1a1a" stroke-width="0.9"/>
<circle cx="361.58" cy="625.40" r="3.95" fill="#fff" stroke="#1a1a1a" stroke-width="0.9"/>
<circle cx="401.26" cy="607.80" r="3.95" fill="#fff" stroke="#1a1a1a" stroke-width="0.9"/>
<circle cx="454.17" cy="556.60" r="3.95" fill="#fff" stroke="#1a1a1a" stroke-width="0.9"/>
<text transform="translate(360.38 617.80) scale(1.04 0.93)" text-anchor="middle" font-size="11.6" stroke-width="0.8">*</text>
<text transform="translate(400.06 599.40) scale(1.04 0.93)" text-anchor="middle" font-size="11.6" stroke-width="0.8">*</text>
<text transform="translate(454.57 541.80) scale(1.04 0.93)" text-anchor="middle" font-size="11.6" stroke-width="0.8">*</text>
<text transform="translate(329.90 519.80) scale(1 1.035)" text-anchor="start" font-size="14.5">J</text>
<text transform="translate(268.30 564.60) rotate(-90) scale(1 1.035)" text-anchor="middle" font-size="14.5">UFGT activity</text>
<text transform="translate(286.20 564.60) rotate(-90) scale(1 1.035)" text-anchor="middle" font-size="14.5">(nmol<tspan dx="-1.8"> s</tspan><tspan font-size="8.5" dy="-8.6" dx="0.6">-1</tspan><tspan dy="8.6" dx="1.8"> kg</tspan><tspan font-size="8.5" dy="-8.6" dx="1.0">-1</tspan><tspan dy="8.6" dx="-0.8"> FW)</tspan></text>
</g>
<g id="panel-F">
<rect x="321.90" y="2.10" width="145.50" height="125.40" fill="#fff" stroke="#4d4d4d" stroke-width="1.05"/>
<line x1="335.13" y1="127.50" x2="335.13" y2="121.30" stroke="#4d4d4d" stroke-width="1.05"/>
<line x1="361.58" y1="127.50" x2="361.58" y2="121.30" stroke="#4d4d4d" stroke-width="1.05"/>
<line x1="388.04" y1="127.50" x2="388.04" y2="121.30" stroke="#4d4d4d" stroke-width="1.05"/>
<line x1="414.49" y1="127.50" x2="414.49" y2="121.30" stroke="#4d4d4d" stroke-width="1.05"/>
<line x1="440.95" y1="127.50" x2="440.95" y2="121.30" stroke="#4d4d4d" stroke-width="1.05"/>
<text transform="translate(314.30 132.50) scale(1 1.035)" text-anchor="end" font-size="14.5">0.00</text>
<line x1="321.90" y1="99.60" x2="328.10" y2="99.60" stroke="#4d4d4d" stroke-width="1.05"/>
<text transform="translate(314.30 104.60) scale(1 1.035)" text-anchor="end" font-size="14.5">0.05</text>
<line x1="321.90" y1="71.70" x2="328.10" y2="71.70" stroke="#4d4d4d" stroke-width="1.05"/>
<text transform="translate(314.30 76.70) scale(1 1.035)" text-anchor="end" font-size="14.5">0.10</text>
<line x1="321.90" y1="43.80" x2="328.10" y2="43.80" stroke="#4d4d4d" stroke-width="1.05"/>
<text transform="translate(314.30 48.80) scale(1 1.035)" text-anchor="end" font-size="14.5">0.15</text>
<line x1="321.90" y1="15.90" x2="328.10" y2="15.90" stroke="#4d4d4d" stroke-width="1.05"/>
<text transform="translate(314.30 20.90) scale(1 1.035)" text-anchor="end" font-size="14.5">0.20</text>
<polyline points="335.13,96.00 361.58,82.40 401.26,81.60 454.17,53.60" fill="none" stroke="#1a1a1a" stroke-width="1.0"/>
<line x1="361.58" y1="77.00" x2="361.58" y2="87.80" stroke="#3c3c3c" stroke-width="0.9"/>
<line x1="358.43" y1="77.00" x2="364.73" y2="77.00" stroke="#3c3c3c" stroke-width="0.9"/>
<line x1="358.43" y1="87.80" x2="364.73" y2="87.80" stroke="#3c3c3c" stroke-width="0.9"/>
<line x1="454.17" y1="46.00" x2="454.17" y2="60.60" stroke="#3c3c3c" stroke-width="0.9"/>
<line x1="451.02" y1="46.00" x2="457.32" y2="46.00" stroke="#3c3c3c" stroke-width="0.9"/>
<line x1="451.02" y1="60.60" x2="457.32" y2="60.60" stroke="#3c3c3c" stroke-width="0.9"/>
<circle cx="335.13" cy="96.00" r="3.95" fill="#000" stroke="#1a1a1a" stroke-width="0.9"/>
<circle cx="361.58" cy="82.40" r="3.95" fill="#000" stroke="#1a1a1a" stroke-width="0.9"/>
<circle cx="401.26" cy="81.60" r="3.95" fill="#000" stroke="#1a1a1a" stroke-width="0.9"/>
<circle cx="454.17" cy="53.60" r="3.95" fill="#000" stroke="#1a1a1a" stroke-width="0.9"/>
<polyline points="335.13,96.00 361.58,92.60 401.26,76.00 454.17,39.60" fill="none" stroke="#1a1a1a" stroke-width="1.0"/>
<line x1="401.26" y1="70.40" x2="401.26" y2="81.60" stroke="#3c3c3c" stroke-width="0.9"/>
<line x1="398.11" y1="70.40" x2="404.41" y2="70.40" stroke="#3c3c3c" stroke-width="0.9"/>
<line x1="398.11" y1="81.60" x2="404.41" y2="81.60" stroke="#3c3c3c" stroke-width="0.9"/>
<line x1="454.17" y1="34.40" x2="454.17" y2="45.20" stroke="#3c3c3c" stroke-width="0.9"/>
<line x1="451.02" y1="34.40" x2="457.32" y2="34.40" stroke="#3c3c3c" stroke-width="0.9"/>
<line x1="451.02" y1="45.20" x2="457.32" y2="45.20" stroke="#3c3c3c" stroke-width="0.9"/>
<circle cx="335.13" cy="96.00" r="3.95" fill="#fff" stroke="#1a1a1a" stroke-width="0.9"/>
<circle cx="361.58" cy="92.60" r="3.95" fill="#fff" stroke="#1a1a1a" stroke-width="0.9"/>
<circle cx="401.26" cy="76.00" r="3.95" fill="#fff" stroke="#1a1a1a" stroke-width="0.9"/>
<circle cx="454.17" cy="39.60" r="3.95" fill="#fff" stroke="#1a1a1a" stroke-width="0.9"/>
<text transform="translate(329.10 18.85) scale(1 1.035)" text-anchor="start" font-size="14.5">F</text>
<text transform="translate(259.60 64.80) rotate(-90) scale(1 1.035)" text-anchor="middle" font-size="14.5">PAL activity</text>
<text transform="translate(278.40 64.80) rotate(-90) scale(1 1.035)" text-anchor="middle" font-size="14.5"><tspan letter-spacing="-0.22">(µmol</tspan><tspan dx="-1.8"> s</tspan><tspan font-size="8.5" dy="-8.6" dx="0.6">-1</tspan><tspan dy="8.6" dx="1.8"> kg</tspan><tspan font-size="8.5" dy="-8.6" dx="1.0">-1</tspan><tspan dy="8.6" dx="-0.8"> FW)</tspan></text>
</g>
<g id="panel-K">
<rect x="557.00" y="2.40" width="104.00" height="125.10" fill="none" stroke="#4d4d4d" stroke-width="1.05"/>
<text transform="translate(549.50 132.30) scale(1 1.035)" text-anchor="end" font-size="14.5">0</text>
<line x1="557.00" y1="91.70" x2="563.20" y2="91.70" stroke="#4d4d4d" stroke-width="1.05"/>
<text transform="translate(549.50 96.50) scale(1 1.035)" text-anchor="end" font-size="14.5">100</text>
<line x1="557.00" y1="55.90" x2="563.20" y2="55.90" stroke="#4d4d4d" stroke-width="1.05"/>
<text transform="translate(549.50 60.70) scale(1 1.035)" text-anchor="end" font-size="14.5">200</text>
<line x1="557.00" y1="20.10" x2="563.20" y2="20.10" stroke="#4d4d4d" stroke-width="1.05"/>
<text transform="translate(549.50 24.90) scale(1 1.035)" text-anchor="end" font-size="14.5">300</text>
<line x1="590.70" y1="89.40" x2="590.70" y2="91.60" stroke="#3c3c3c" stroke-width="0.9"/>
<line x1="586.20" y1="89.40" x2="595.20" y2="89.40" stroke="#3c3c3c" stroke-width="0.9"/>
<rect x="584.6" y="91.6" width="14.20" height="35.90" fill="#000"/>
<rect x="619.9" y="44.4" width="13.20" height="83.10" fill="#fff" stroke="#3c3c3c" stroke-width="1"/>
<line x1="626.00" y1="40.60" x2="626.00" y2="48.20" stroke="#3c3c3c" stroke-width="0.9"/>
<line x1="622.80" y1="40.60" x2="629.20" y2="40.60" stroke="#3c3c3c" stroke-width="0.9"/>
<line x1="622.80" y1="48.20" x2="629.20" y2="48.20" stroke="#3c3c3c" stroke-width="0.9"/>
<line x1="557.00" y1="127.50" x2="661.00" y2="127.50" stroke="#000" stroke-width="1"/>
<text transform="translate(625.50 37.80) scale(1.04 0.93)" text-anchor="middle" font-size="11.6" stroke-width="0.8">*</text>
<text transform="translate(564.00 19.80) scale(1 1.035)" text-anchor="start" font-size="14.5">K</text>
<text transform="translate(513.00 64.95) rotate(-90) scale(1 1.035)" text-anchor="middle" font-size="14.5">PAL activity (%)</text>
</g>
<g id="panel-L">
<rect x="557.00" y="127.50" width="104.00" height="124.90" fill="none" stroke="#4d4d4d" stroke-width="1.05"/>
<text transform="translate(549.50 257.20) scale(1 1.035)" text-anchor="end" font-size="14.5">0</text>
<line x1="557.00" y1="216.73" x2="563.20" y2="216.73" stroke="#4d4d4d" stroke-width="1.05"/>
<text transform="translate(549.50 221.53) scale(1 1.035)" text-anchor="end" font-size="14.5">100</text>
<line x1="557.00" y1="181.06" x2="563.20" y2="181.06" stroke="#4d4d4d" stroke-width="1.05"/>
<text transform="translate(549.50 185.86) scale(1 1.035)" text-anchor="end" font-size="14.5">200</text>
<line x1="557.00" y1="145.39" x2="563.20" y2="145.39" stroke="#4d4d4d" stroke-width="1.05"/>
<text transform="translate(549.50 150.19) scale(1 1.035)" text-anchor="end" font-size="14.5">300</text>
<line x1="590.70" y1="213.20" x2="590.70" y2="216.40" stroke="#3c3c3c" stroke-width="0.9"/>
<line x1="586.20" y1="213.20" x2="595.20" y2="213.20" stroke="#3c3c3c" stroke-width="0.9"/>
<rect x="584.6" y="216.4" width="14.20" height="36.00" fill="#000"/>
<rect x="619.9" y="167.6" width="13.20" height="84.80" fill="#fff" stroke="#3c3c3c" stroke-width="1"/>
<line x1="626.00" y1="159.40" x2="626.00" y2="176.40" stroke="#3c3c3c" stroke-width="0.9"/>
<line x1="622.80" y1="159.40" x2="629.20" y2="159.40" stroke="#3c3c3c" stroke-width="0.9"/>
<line x1="622.80" y1="176.40" x2="629.20" y2="176.40" stroke="#3c3c3c" stroke-width="0.9"/>
<line x1="557.00" y1="252.40" x2="661.00" y2="252.40" stroke="#000" stroke-width="1"/>
<text transform="translate(626.40 155.80) scale(1.04 0.93)" text-anchor="middle" font-size="11.6" stroke-width="0.8">*</text>
<text transform="translate(565.00 145.00) scale(1 1.035)" text-anchor="start" font-size="14.5">L</text>
<text transform="translate(509.50 189.95) rotate(-90) scale(1 1.035)" text-anchor="middle" font-size="14.5">CHS activity (%)</text>
</g>
<g id="panel-M">
<rect x="557.00" y="252.40" width="104.00" height="125.00" fill="none" stroke="#4d4d4d" stroke-width="1.05"/>
<text transform="translate(549.50 382.20) scale(1 1.035)" text-anchor="end" font-size="14.5">0</text>
<line x1="557.00" y1="354.72" x2="563.20" y2="354.72" stroke="#4d4d4d" stroke-width="1.05"/>
<text transform="translate(549.50 359.52) scale(1 1.035)" text-anchor="end" font-size="14.5">50</text>
<line x1="557.00" y1="332.04" x2="563.20" y2="332.04" stroke="#4d4d4d" stroke-width="1.05"/>
<text transform="translate(549.50 336.84) scale(1 1.035)" text-anchor="end" font-size="14.5">100</text>
<line x1="557.00" y1="309.36" x2="563.20" y2="309.36" stroke="#4d4d4d" stroke-width="1.05"/>
<text transform="translate(549.50 314.16) scale(1 1.035)" text-anchor="end" font-size="14.5">150</text>
<line x1="557.00" y1="286.68" x2="563.20" y2="286.68" stroke="#4d4d4d" stroke-width="1.05"/>
<text transform="translate(549.50 291.48) scale(1 1.035)" text-anchor="end" font-size="14.5">200</text>
<line x1="557.00" y1="264.00" x2="563.20" y2="264.00" stroke="#4d4d4d" stroke-width="1.05"/>
<text transform="translate(549.50 268.80) scale(1 1.035)" text-anchor="end" font-size="14.5">250</text>
<line x1="590.70" y1="329.00" x2="590.70" y2="331.80" stroke="#3c3c3c" stroke-width="0.9"/>
<line x1="586.20" y1="329.00" x2="595.20" y2="329.00" stroke="#3c3c3c" stroke-width="0.9"/>
<rect x="584.6" y="331.8" width="14.20" height="45.60" fill="#000"/>
<rect x="619.9" y="280.6" width="13.20" height="96.80" fill="#fff" stroke="#3c3c3c" stroke-width="1"/>
<line x1="626.00" y1="274.40" x2="626.00" y2="287.00" stroke="#3c3c3c" stroke-width="0.9"/>
<line x1="622.80" y1="274.40" x2="629.20" y2="274.40" stroke="#3c3c3c" stroke-width="0.9"/>
<line x1="622.80" y1="287.00" x2="629.20" y2="287.00" stroke="#3c3c3c" stroke-width="0.9"/>
<line x1="557.00" y1="377.40" x2="661.00" y2="377.40" stroke="#000" stroke-width="1"/>
<text transform="translate(626.40 272.20) scale(1.04 0.93)" text-anchor="middle" font-size="11.6" stroke-width="0.8">*</text>
<text transform="translate(563.00 269.00) scale(1 1.035)" text-anchor="start" font-size="14.5">M</text>
<text transform="translate(509.50 314.90) rotate(-90) scale(1 1.035)" text-anchor="middle" font-size="14.5">DFR activity (%)</text>
</g>
<g id="panel-N">
<rect x="557.00" y="377.40" width="104.00" height="125.00" fill="none" stroke="#4d4d4d" stroke-width="1.05"/>
<text transform="translate(549.50 507.20) scale(1 1.035)" text-anchor="end" font-size="14.5">0</text>
<line x1="557.00" y1="466.73" x2="563.20" y2="466.73" stroke="#4d4d4d" stroke-width="1.05"/>
<text transform="translate(549.50 471.53) scale(1 1.035)" text-anchor="end" font-size="14.5">50</text>
<line x1="557.00" y1="431.06" x2="563.20" y2="431.06" stroke="#4d4d4d" stroke-width="1.05"/>
<text transform="translate(549.50 435.86) scale(1 1.035)" text-anchor="end" font-size="14.5">100</text>
<line x1="557.00" y1="395.39" x2="563.20" y2="395.39" stroke="#4d4d4d" stroke-width="1.05"/>
<text transform="translate(549.50 400.19) scale(1 1.035)" text-anchor="end" font-size="14.5">150</text>
<line x1="590.70" y1="427.60" x2="590.70" y2="430.60" stroke="#3c3c3c" stroke-width="0.9"/>
<line x1="586.20" y1="427.60" x2="595.20" y2="427.60" stroke="#3c3c3c" stroke-width="0.9"/>
<rect x="584.6" y="430.6" width="14.20" height="71.80" fill="#000"/>
<rect x="619.9" y="410.6" width="13.20" height="91.80" fill="#fff" stroke="#3c3c3c" stroke-width="1"/>
<line x1="626.00" y1="405.60" x2="626.00" y2="415.60" stroke="#3c3c3c" stroke-width="0.9"/>
<line x1="622.80" y1="405.60" x2="629.20" y2="405.60" stroke="#3c3c3c" stroke-width="0.9"/>
<line x1="622.80" y1="415.60" x2="629.20" y2="415.60" stroke="#3c3c3c" stroke-width="0.9"/>
<line x1="557.00" y1="502.40" x2="661.00" y2="502.40" stroke="#000" stroke-width="1"/>
<text transform="translate(626.40 404.40) scale(1.04 0.93)" text-anchor="middle" font-size="11.6" stroke-width="0.8">*</text>
<text transform="translate(564.00 396.00) scale(1 1.035)" text-anchor="start" font-size="14.5">N</text>
<text transform="translate(509.50 439.90) rotate(-90) scale(1 1.035)" text-anchor="middle" font-size="14.5">ANS activity (%)</text>
</g>
<g id="panel-O">
<rect x="557.00" y="502.40" width="104.00" height="125.00" fill="none" stroke="#4d4d4d" stroke-width="1.05"/>
<text transform="translate(549.50 632.20) scale(1 1.035)" text-anchor="end" font-size="14.5">0</text>
<line x1="557.00" y1="608.20" x2="563.20" y2="608.20" stroke="#4d4d4d" stroke-width="1.05"/>
<text transform="translate(549.50 613.00) scale(1 1.035)" text-anchor="end" font-size="14.5">20</text>
<line x1="557.00" y1="589.00" x2="563.20" y2="589.00" stroke="#4d4d4d" stroke-width="1.05"/>
<text transform="translate(549.50 593.80) scale(1 1.035)" text-anchor="end" font-size="14.5">40</text>
<line x1="557.00" y1="569.80" x2="563.20" y2="569.80" stroke="#4d4d4d" stroke-width="1.05"/>
<text transform="translate(549.50 574.60) scale(1 1.035)" text-anchor="end" font-size="14.5">60</text>
<line x1="557.00" y1="550.60" x2="563.20" y2="550.60" stroke="#4d4d4d" stroke-width="1.05"/>
<text transform="translate(549.50 555.40) scale(1 1.035)" text-anchor="end" font-size="14.5">80</text>
<line x1="557.00" y1="531.40" x2="563.20" y2="531.40" stroke="#4d4d4d" stroke-width="1.05"/>
<text transform="translate(549.50 536.20) scale(1 1.035)" text-anchor="end" font-size="14.5">100</text>
<line x1="557.00" y1="512.20" x2="563.20" y2="512.20" stroke="#4d4d4d" stroke-width="1.05"/>
<text transform="translate(549.50 517.00) scale(1 1.035)" text-anchor="end" font-size="14.5">120</text>
<line x1="590.70" y1="523.80" x2="590.70" y2="531.20" stroke="#3c3c3c" stroke-width="0.9"/>
<line x1="586.20" y1="523.80" x2="595.20" y2="523.80" stroke="#3c3c3c" stroke-width="0.9"/>
<rect x="584.6" y="531.2" width="14.20" height="96.20" fill="#000"/>
<rect x="619.9" y="535.8" width="13.20" height="91.60" fill="#fff" stroke="#3c3c3c" stroke-width="1"/>
<line x1="626.00" y1="529.80" x2="626.00" y2="542.20" stroke="#3c3c3c" stroke-width="0.9"/>
<line x1="622.80" y1="529.80" x2="629.20" y2="529.80" stroke="#3c3c3c" stroke-width="0.9"/>
<line x1="622.80" y1="542.20" x2="629.20" y2="542.20" stroke="#3c3c3c" stroke-width="0.9"/>
<line x1="557.00" y1="627.40" x2="661.00" y2="627.40" stroke="#000" stroke-width="1"/>
<text transform="translate(565.50 518.00) scale(1 1.035)" text-anchor="start" font-size="14.5">O</text>
<text transform="translate(509.50 564.90) rotate(-90) scale(1 1.035)" text-anchor="middle" font-size="14.5">UFGT activity (%)</text>
</g>
<circle cx="130.4" cy="14.5" r="4.2" fill="#000" stroke="#1a1a1a" stroke-width="0.9"/>
<circle cx="130.4" cy="32.9" r="4.2" fill="#fff" stroke="#1a1a1a" stroke-width="0.9"/>
<text transform="translate(155.70 19.45) scale(1 1.035)" text-anchor="start" font-size="14.5">T20</text>
<text transform="translate(155.70 37.60) scale(1 1.035)" text-anchor="start" font-size="14.5">T35</text>
<text transform="translate(90.61 646.90) scale(1 1.035)" text-anchor="middle" font-size="14.5">0</text>
<text transform="translate(117.03 646.90) scale(1 1.035)" text-anchor="middle" font-size="14.5">2</text>
<text transform="translate(143.45 646.90) scale(1 1.035)" text-anchor="middle" font-size="14.5">4</text>
<text transform="translate(169.86 646.90) scale(1 1.035)" text-anchor="middle" font-size="14.5">6</text>
<text transform="translate(196.28 646.90) scale(1 1.035)" text-anchor="middle" font-size="14.5">8</text>
<text transform="translate(222.70 646.90) scale(1 1.035)" text-anchor="middle" font-size="14.5">10</text>
<text transform="translate(335.13 646.90) scale(1 1.035)" text-anchor="middle" font-size="14.5">0</text>
<text transform="translate(361.58 646.90) scale(1 1.035)" text-anchor="middle" font-size="14.5">2</text>
<text transform="translate(388.04 646.90) scale(1 1.035)" text-anchor="middle" font-size="14.5">4</text>
<text transform="translate(414.49 646.90) scale(1 1.035)" text-anchor="middle" font-size="14.5">6</text>
<text transform="translate(440.95 646.90) scale(1 1.035)" text-anchor="middle" font-size="14.5">8</text>
<text transform="translate(467.40 646.90) scale(1 1.035)" text-anchor="middle" font-size="14.5">10</text>
<text transform="translate(591.50 647.00) scale(1 1.035)" text-anchor="middle" font-size="14.5">20C</text>
<text transform="translate(626.40 647.00) scale(1 1.035)" text-anchor="middle" font-size="14.5">35C</text>
<text transform="translate(153.50 669.60) scale(1 1.035)" text-anchor="middle" font-size="14.5">Days after treatment</text>
<text transform="translate(393.80 669.70) scale(1 1.035)" text-anchor="middle" font-size="14.5">Days after tretament</text>
<text transform="translate(608.20 667.80) scale(1 1.035)" text-anchor="middle" font-size="14.5">Assay temperatures</text>
</svg>
</body></html>
